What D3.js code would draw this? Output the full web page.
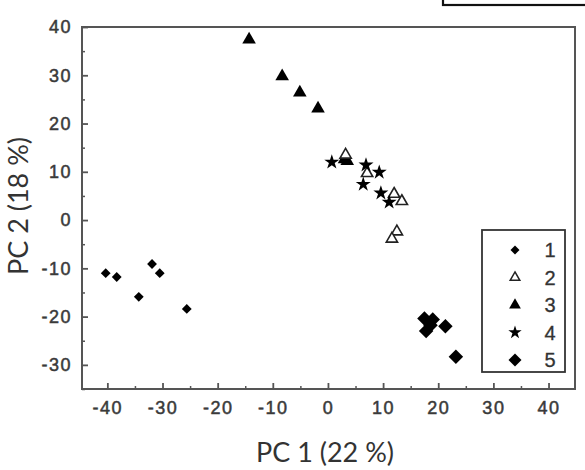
<!DOCTYPE html>
<html>
<head>
<meta charset="utf-8">
<script src="https://cdn.jsdelivr.net/npm/d3@7"></script>
<style>
  body { margin: 0; background: #fff; }
  .tick text { font-family: "Liberation Sans", Arial, sans-serif; font-size: 18px; fill: #3a3a3a; stroke: #3a3a3a; stroke-width: 0.5px; letter-spacing: 1.5px; }
  .axis-title { font-family: Lato, "Open Sans", sans-serif; font-size: 27px; fill: #333; }
  .legend text { font-family: "Liberation Sans", Arial, sans-serif; font-size: 20px; fill: #333; stroke: #333; stroke-width: 0.3px; }
</style>
</head>
<body>
<div id="chart"></div>
<script>
// PCA scores
var s1x = [-40.3, -38.3, -34.3, -31.9, -30.5, -25.6];
var s1y = [-11.0, -11.8, -15.9, -9.1, -11.0, -18.4];

var s2x = [3.2, 7.1, 12.0, 13.4, 12.5, 11.6];
var s2y = [13.5, 9.7, 5.4, 3.9, -2.4, -3.9];

var s3x = [-14.3, -8.3, -5.1, -1.8, 3.0, 3.5];
var s3y = [37.4, 29.8, 26.4, 23.1, 12.6, 12.2];

var s4x = [0.7, 6.9, 9.3, 6.4, 9.6, 11.1];
var s4y = [12.0, 11.4, 9.9, 7.4, 5.6, 3.7];

var s5x = [17.5, 19.0, 18.6, 17.8, 21.3, 23.2];
var s5y = [-20.4, -20.6, -21.8, -23.0, -22.0, -28.3];

var seriesNames = ["1", "2", "3", "4", "5"];
var xTicks = [-40, -30, -20, -10, 0, 10, 20, 30, 40];
var yTicks = [-30, -20, -10, 0, 10, 20, 30, 40];
var xMinor = [-35, -25, -15, -5, 5, 15, 25, 35];
var yMinor = [-35, -25, -15, -5, 5, 15, 25, 35];

var width = 585, height = 470;

var svg = d3.select("#chart")
    .append("svg")
    .attr("width", width)
    .attr("height", height);

var x = d3.scaleLinear().domain([-44.6, 44.8]).range([82, 575]);
var y = d3.scaleLinear().domain([-35, 40]).range([389, 27]);

// cut-off box above the plot
svg.append("rect")
    .attr("x", 443).attr("y", -10)
    .attr("width", 160).attr("height", 15)
    .attr("fill", "none")
    .attr("stroke", "#111")
    .attr("stroke-width", 2.2);

// frame
svg.append("rect")
    .attr("x", 82).attr("y", 27)
    .attr("width", 575 - 82).attr("height", 389 - 27)
    .attr("fill", "none")
    .attr("stroke", "#555")
    .attr("stroke-width", 2);

// minor ticks
svg.append("g")
    .attr("transform", "translate(0,389)")
    .call(d3.axisBottom(x).tickValues(xMinor).tickSize(-3).tickFormat(""))
    .call(function(g){ g.select(".domain").remove(); g.selectAll("line").attr("stroke", "#555").attr("stroke-width", 1.5); });

svg.append("g")
    .attr("transform", "translate(82,0)")
    .call(d3.axisLeft(y).tickValues(yMinor).tickSize(-3).tickFormat(""))
    .call(function(g){ g.select(".domain").remove(); g.selectAll("line").attr("stroke", "#555").attr("stroke-width", 1.5); });

// major ticks + labels
svg.append("g")
    .attr("transform", "translate(0,389)")
    .call(d3.axisBottom(x).tickValues(xTicks).tickSize(-6).tickPadding(12).tickFormat(d3.format("d")))
    .call(function(g){
        g.select(".domain").remove();
        g.selectAll("line").attr("stroke", "#555").attr("stroke-width", 1.8);
        g.selectAll("text").text(function(d){ return d < 0 ? "-" + Math.abs(d) : d; });
    });

svg.append("g")
    .attr("transform", "translate(82,0)")
    .call(d3.axisLeft(y).tickValues(yTicks).tickSize(-6).tickPadding(10).tickFormat(d3.format("d")))
    .call(function(g){
        g.select(".domain").remove();
        g.selectAll("line").attr("stroke", "#555").attr("stroke-width", 1.8);
        g.selectAll("text").attr("x", -10).text(function(d){ return d < 0 ? "-" + Math.abs(d) : d; });
    });

// axis titles
svg.append("text")
    .attr("class", "axis-title")
    .attr("x", 325).attr("y", 462)
    .attr("text-anchor", "middle")
    .text("PC 1 (22 %)");

svg.append("text")
    .attr("class", "axis-title")
    .attr("transform", "translate(28,206) rotate(-90)")
    .attr("text-anchor", "middle")
    .text("PC 2 (18 %)");

// symbol styles per series
var styles = [
    { type: d3.symbolSquare, size: 48, rot: 45, fill: "#000", stroke: "none" },
    { type: d3.symbolTriangle, size: 55, rot: 0, fill: "#fff", stroke: "#222" },
    { type: d3.symbolTriangle, size: 80, rot: 0, fill: "#000", stroke: "none" },
    { type: d3.symbolStar, size: 70, rot: 0, fill: "#000", stroke: "none" },
    { type: d3.symbolSquare, size: 105, rot: 45, fill: "#000", stroke: "none" }
];

var series = [
    d3.zip(s1x, s1y),
    d3.zip(s2x, s2y),
    d3.zip(s3x, s3y),
    d3.zip(s4x, s4y),
    d3.zip(s5x, s5y)
];

var drawOrder = [0, 4, 2, 1, 3];
drawOrder.forEach(function(i) {
    var st = styles[i];
    svg.append("g")
        .selectAll("path")
        .data(series[i])
        .enter()
        .append("path")
        .attr("d", d3.symbol().type(st.type).size(st.size))
        .attr("transform", function(d) {
            return "translate(" + x(d[0]) + "," + y(d[1]) + ") rotate(" + st.rot + ")";
        })
        .attr("fill", st.fill)
        .attr("stroke", st.stroke)
        .attr("stroke-width", 1.6);
});

// legend
var legend = svg.append("g").attr("class", "legend");
legend.append("rect")
    .attr("x", 482).attr("y", 230)
    .attr("width", 83).attr("height", 142)
    .attr("fill", "#fff")
    .attr("stroke", "#333")
    .attr("stroke-width", 1.8);

var legendSizes = [40, 40, 60, 55, 85];
seriesNames.forEach(function(name, i) {
    var st = styles[i];
    var ly = 250 + i * 27.5;
    legend.append("path")
        .attr("d", d3.symbol().type(st.type).size(legendSizes[i]))
        .attr("transform", "translate(515," + ly + ") rotate(" + st.rot + ")")
        .attr("fill", st.fill)
        .attr("stroke", st.stroke)
        .attr("stroke-width", 1.5);
    legend.append("text")
        .attr("x", 550).attr("y", ly + 7)
        .attr("text-anchor", "middle")
        .text(name);
});
</script>
</body>
</html>
